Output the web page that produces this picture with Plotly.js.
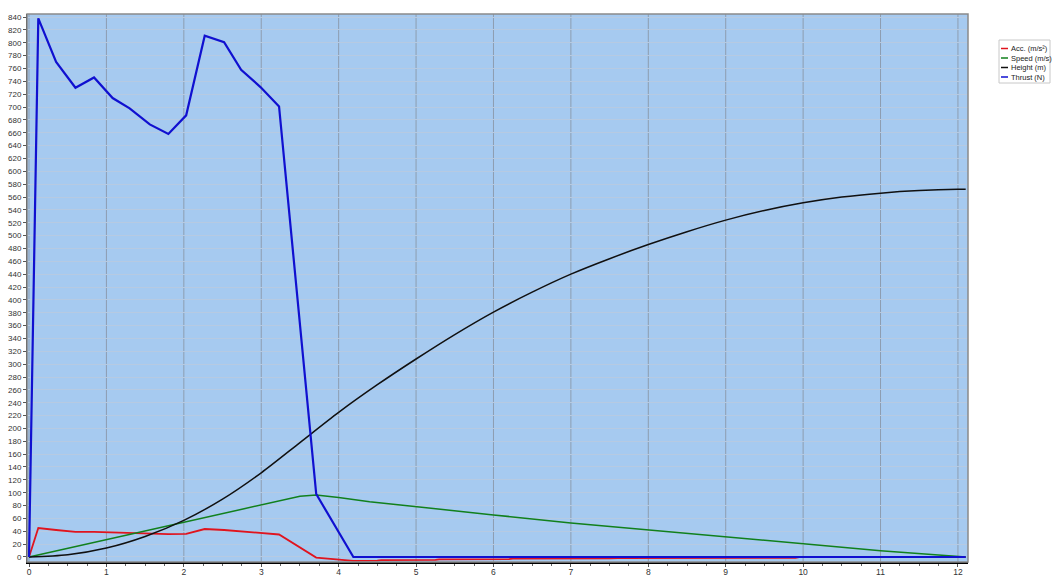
<!DOCTYPE html>
<html>
<head>
<meta charset="utf-8">
<script src="https://cdn.plot.ly/plotly-3.0.1.min.js"></script>
<style>
html,body{margin:0;padding:0;background:#fff;}
#chart{width:1052px;height:576px;}
</style>
</head>
<body>
<div id="chart"></div>
<script>
// ---- data ----
const seriesNames = ["Acc. (m/s²)", "Speed (m/s)", "Height (m)", "Thrust (N)"];
const seriesColors = ["#e0141e", "#11801c", "#101010", "#1010d0"];

const accTime = [0, 0.12, 0.35, 0.60, 0.84, 1.08, 1.30, 1.56, 1.80, 2.03, 2.27, 2.52, 2.74, 2.99, 3.23, 3.71, 4.19, 4.50, 4.55, 5.25, 5.30, 6.20, 6.25, 7.50, 7.60, 9.90, 9.95, 12.10];
const accVal  = [0, 45, 42, 39, 39, 38, 37, 36, 35.5, 36, 43.5, 42, 40, 38, 35, -1, -6, -5.6, -4.8, -4.4, -3.7, -3.2, -2.6, -2.3, -1.6, -1.3, -0.3, -0.3];

const speedTime = [0, 3.23, 3.5, 3.71, 4.0, 4.4, 5, 6, 7, 8, 9, 10, 11, 12.1];
const speedVal  = [0, 88, 94.5, 96.5, 92.6, 86, 78, 65.5, 52.8, 41.9, 30.6, 20.2, 9.8, 0];

const heightTime = [0, 0.5, 1, 1.5, 2, 2.5, 3, 3.5, 4, 4.5, 5, 5.5, 6, 6.5, 7, 7.5, 8, 8.5, 9, 9.5, 10, 10.5, 11, 11.5, 12, 12.1];
const heightVal  = [0, 3.5, 14, 32, 57, 90, 131, 178, 225, 268, 308, 346, 381, 412, 440, 464, 486, 506, 524, 539, 551, 560, 566, 570, 572, 572];

const thrustTime = [0, 0.12, 0.35, 0.60, 0.84, 1.08, 1.30, 1.56, 1.80, 2.03, 2.27, 2.52, 2.74, 2.99, 3.23, 3.71, 4.19, 12.10];
const thrustVal  = [0, 838, 770, 730, 746, 714, 698, 673, 658, 687, 811, 801, 758, 731, 701, 98, 0, 0];

const xTickVals = [0,1,2,3,4,5,6,7,8,9,10,11,12];
const yTickVals = [];
for (let v = 0; v <= 840; v += 20) yTickVals.push(v);

// ---- traces ----
const xs = [accTime, speedTime, heightTime, thrustTime];
const ys = [accVal, speedVal, heightVal, thrustVal];
const widths = [1.8, 1.5, 1.5, 2.2];
const shapesLine = ["linear", "linear", "spline", "linear"];
const traces = xs.map((x, i) => ({
  x: x, y: ys[i], type: "scatter", mode: "lines", name: seriesNames[i],
  line: {color: seriesColors[i], width: widths[i], shape: shapesLine[i], smoothing: 0.8}, showlegend: false,
  hoverinfo: "x+y+name"
}));

// ---- layout helpers ----
const L = 27, R = 968, T = 14, B = 562;
const px = v => (v - L) / (R - L);
const py = v => (B - v) / (B - T);
const shapes = [];
// solid vertical grid lines at each integer tick (drawn above the horizontal grid)
xTickVals.forEach(v => {
  shapes.push({type: "line", xref: "x", yref: "paper", x0: v, x1: v, y0: 0, y1: 1,
    line: {color: "#8d9db0", width: 1}, layer: "below"});
});
shapes.push({type: "rect", xref: "paper", yref: "paper", x0: 0, x1: 1, y0: 0, y1: 1,
   line: {color: "#8a8a8a", width: 1.5}, fillcolor: "rgba(0,0,0,0)", layer: "above"});
// compact legend box
shapes.push({type: "rect", xref: "paper", yref: "paper", x0: px(999), x1: px(1050), y0: py(40), y1: py(83),
   line: {color: "#c8c8c8", width: 1}, fillcolor: "#ffffff"});
const annotations = [];
seriesNames.forEach((n, i) => {
  const yy = 48.5 + i * 9.5;
  shapes.push({type: "line", xref: "paper", yref: "paper", x0: px(1001), x1: px(1008), y0: py(yy), y1: py(yy),
    line: {color: seriesColors[i], width: 1.5}});
  annotations.push({xref: "paper", yref: "paper", x: px(1009), y: py(yy), text: n, showarrow: false,
    xanchor: "left", yanchor: "middle", font: {family: "Liberation Sans, Arial, sans-serif", size: 7.5, color: "#222"}});
});

const layout = {
  width: 1052, height: 576,
  margin: {l: L, r: 1052 - R, t: T, b: 576 - B, pad: 0},
  paper_bgcolor: "#ffffff",
  plot_bgcolor: "#a6caf0",
  font: {family: "Liberation Sans, Arial, sans-serif", size: 8.5, color: "#333"},
  showlegend: false,
  xaxis: {
    range: [-0.026, 12.13], tickvals: xTickVals, ticktext: xTickVals.map(String),
    showgrid: false,
    zeroline: false, showline: true, linecolor: "#000", linewidth: 2,
    ticks: "outside", ticklen: 3, tickcolor: "#555", tickfont: {size: 8.5, color: "#333"},
    ticklabelstandoff: -2,
    minor: {dtick: 0.25, ticks: "outside", ticklen: 2, tickcolor: "#666", showgrid: false}
  },
  yaxis: {
    range: [-7.8, 844.7], tickvals: yTickVals, ticktext: yTickVals.map(String),
    showgrid: true, gridcolor: "#b6cae2", gridwidth: 1,
    zeroline: false, showline: true, linecolor: "#222", linewidth: 1,
    ticks: "outside", ticklen: 3, tickcolor: "#555", tickfont: {size: 8, color: "#333"}
  },
  shapes: shapes,
  annotations: annotations
};

Plotly.newPlot("chart", traces, layout, {displayModeBar: false, staticPlot: false});
</script>
</body>
</html>
